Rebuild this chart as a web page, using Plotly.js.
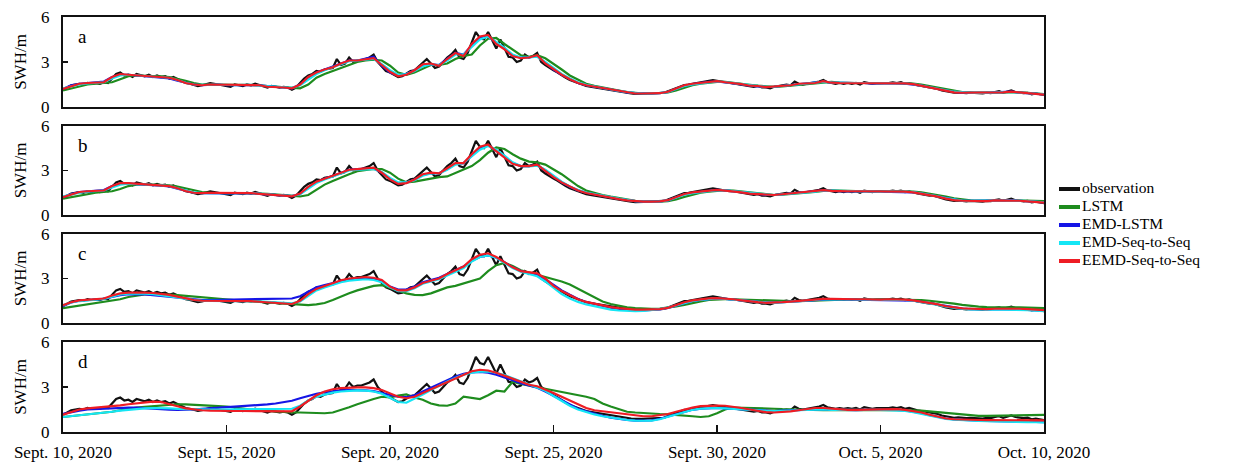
<!DOCTYPE html>
<html>
<head>
<meta charset="utf-8">
<script src="https://cdn.plot.ly/plotly-3.0.1.min.js"></script>
<style>
  html, body { margin: 0; padding: 0; background: #fff; }
  #chart { width: 1235px; height: 466px; }
</style>
</head>
<body>
<div id="chart"></div>
<script>
// Significant wave height, Sept. 10 – Oct. 10, 2020
// observation: 3-hourly values; model forecasts: 6-hourly values
const seriesNames = ['observation', 'LSTM', 'EMD-LSTM', 'EMD-Seq-to-Seq', 'EEMD-Seq-to-Seq'];
const panelLabels = ['a', 'b', 'c', 'd'];
const tickDates = ['2020-09-10', '2020-09-15', '2020-09-20', '2020-09-25', '2020-09-30', '2020-10-05', '2020-10-10'];
const tickLabels = ['Sept. 10, 2020', 'Sept. 15, 2020', 'Sept. 20, 2020', 'Sept. 25, 2020', 'Sept. 30, 2020', 'Oct. 5, 2020', 'Oct. 10, 2020'];
const yTicks = [0, 3, 6];

const observation = [
  1.15,1.3,1.45,1.5,1.55,1.5,1.6,1.55,
  1.6,1.55,1.65,1.6,1.9,2.2,2.3,2.1,
  2.15,2.0,2.2,2.1,2.05,2.15,2.0,2.1,
  2.0,2.05,1.9,2.0,1.85,1.7,1.6,1.55,
  1.5,1.4,1.45,1.5,1.6,1.55,1.5,1.45,
  1.4,1.35,1.5,1.45,1.4,1.5,1.45,1.55,
  1.45,1.35,1.3,1.4,1.35,1.3,1.35,1.3,
  1.15,1.3,1.6,1.9,2.1,2.2,2.4,2.35,
  2.5,2.55,2.6,3.2,2.8,2.9,3.3,3.0,
  3.1,3.1,3.2,3.3,3.5,3.0,2.7,2.4,
  2.3,2.15,2.0,2.05,2.2,2.4,2.45,2.7,
  2.9,3.2,2.9,2.6,2.7,3.0,3.3,3.5,
  3.8,3.3,3.2,3.6,4.3,5.0,4.6,4.5,
  5.0,4.4,3.9,4.5,3.9,3.35,3.3,3.0,
  3.1,3.5,3.3,3.4,3.6,3.0,2.8,2.6,
  2.45,2.3,2.1,1.95,1.8,1.7,1.55,1.45,
  1.4,1.35,1.3,1.25,1.25,1.2,1.15,1.1,
  1.05,1.0,0.95,0.9,0.87,0.9,0.88,0.9,
  0.9,0.9,0.92,0.95,1.05,1.15,1.3,1.4,
  1.47,1.5,1.55,1.6,1.6,1.65,1.7,1.8,
  1.75,1.7,1.65,1.6,1.6,1.55,1.5,1.45,
  1.4,1.35,1.4,1.3,1.3,1.25,1.35,1.4,
  1.45,1.5,1.45,1.7,1.55,1.5,1.55,1.6,
  1.6,1.7,1.8,1.65,1.6,1.55,1.6,1.55,
  1.6,1.55,1.6,1.5,1.65,1.6,1.55,1.6,
  1.6,1.55,1.6,1.65,1.6,1.65,1.55,1.6,
  1.5,1.45,1.4,1.35,1.3,1.3,1.2,1.1,
  1.05,1.0,0.95,0.98,0.95,0.92,0.95,0.93,
  0.95,0.9,0.95,0.93,1.0,1.05,0.95,1.0,
  1.1,1.0,0.95,0.92,0.95,0.85,0.9,0.85,
  0.8
];

// ---- panel a ----
const lstmA = [
  1.1,1.25,1.4,1.5, 1.55,1.6,1.65,1.85,
  2.05,2.1,2.1,2.05, 2.05,2.0,1.9,1.75,
  1.6,1.5,1.5,1.5, 1.45,1.45,1.45,1.48,
  1.45,1.4,1.35,1.32, 1.25,1.25,1.5,1.95,
  2.2,2.4,2.6,2.85, 3.0,3.1,3.15,3.1,
  2.75,2.3,2.15,2.3, 2.55,2.8,2.8,2.9,
  3.2,3.4,3.5,4.1, 4.55,4.6,4.2,3.8,
  3.45,3.35,3.45,3.25, 2.9,2.5,2.1,1.8,
  1.55,1.42,1.3,1.2, 1.1,1.0,0.93,0.9,
  0.9,0.92,0.97,1.1, 1.3,1.45,1.55,1.62,
  1.68,1.68,1.63,1.56, 1.48,1.42,1.36,1.34,
  1.38,1.43,1.48,1.55, 1.58,1.65,1.68,1.63,
  1.6,1.6,1.6,1.58, 1.58,1.6,1.6,1.59,
  1.56,1.5,1.4,1.3, 1.18,1.06,0.99,0.96,
  0.95,0.94,0.96,0.98, 1.0,0.98,0.94,0.9,
  0.86
];
const emdLstmA = [
  1.2,1.45,1.55,1.6, 1.6,1.7,2.0,2.15,
  2.15,2.1,2.1,2.0, 2.0,1.9,1.75,1.6,
  1.5,1.45,1.5,1.5, 1.45,1.45,1.5,1.5,
  1.45,1.4,1.35,1.3, 1.25,1.5,1.95,2.3,
  2.5,2.7,2.9,3.1, 3.1,3.2,3.35,2.75,
  2.3,2.1,2.2,2.45, 2.8,2.85,2.8,3.2,
  3.6,3.5,4.1,4.6, 4.7,4.3,3.9,3.4,
  3.3,3.3,3.4,2.95, 2.5,2.15,1.85,1.6,
  1.45,1.35,1.25,1.15, 1.05,0.98,0.92,0.9,
  0.9,0.93,1.0,1.22, 1.42,1.52,1.6,1.68,
  1.7,1.65,1.58,1.5, 1.42,1.38,1.33,1.35,
  1.4,1.45,1.52,1.55, 1.6,1.7,1.62,1.6,
  1.58,1.6,1.6,1.56, 1.58,1.6,1.58,1.56,
  1.5,1.42,1.32,1.22, 1.1,1.0,0.96,0.95,
  0.94,0.94,0.98,0.98, 1.02,0.96,0.92,0.88,
  0.84
];
const emdSeqA = [
  1.25,1.4,1.5,1.58, 1.6,1.65,1.9,2.1,
  2.15,2.1,2.05,2.05, 2.0,1.95,1.8,1.62,
  1.5,1.47,1.48,1.5, 1.45,1.45,1.47,1.48,
  1.42,1.38,1.35,1.3, 1.28,1.45,1.85,2.2,
  2.45,2.65,2.85,3.05, 3.1,3.15,3.2,2.85,
  2.45,2.15,2.2,2.4, 2.7,2.85,2.8,3.1,
  3.5,3.5,4.0,4.5, 4.7,4.35,3.95,3.5,
  3.3,3.3,3.35,3.0, 2.6,2.2,1.9,1.65,
  1.48,1.36,1.27,1.17, 1.07,0.99,0.93,0.9,
  0.9,0.92,1.0,1.2, 1.4,1.5,1.58,1.66,
  1.7,1.66,1.6,1.53, 1.45,1.4,1.34,1.35,
  1.4,1.44,1.5,1.55, 1.58,1.68,1.64,1.6,
  1.6,1.6,1.6,1.58, 1.58,1.6,1.6,1.58,
  1.53,1.44,1.34,1.24, 1.12,1.02,0.97,0.95,
  0.94,0.94,0.98,0.98, 1.0,0.97,0.93,0.89,
  0.85
];
const eemdSeqA = [
  1.2,1.4,1.55,1.6, 1.6,1.65,2.0,2.2,
  2.15,2.1,2.1,2.05, 2.0,1.95,1.8,1.6,
  1.5,1.45,1.5,1.5, 1.45,1.45,1.45,1.5,
  1.45,1.35,1.35,1.3, 1.25,1.5,2.0,2.3,
  2.5,2.65,2.9,3.1, 3.1,3.15,3.25,2.8,
  2.35,2.05,2.15,2.45, 2.85,2.9,2.75,3.2,
  3.6,3.4,4.2,4.7, 4.8,4.2,3.85,3.4,
  3.25,3.3,3.45,2.9, 2.5,2.15,1.85,1.6,
  1.45,1.35,1.25,1.15, 1.05,0.97,0.9,0.9,
  0.9,0.92,1.02,1.25, 1.45,1.55,1.6,1.7,
  1.72,1.65,1.6,1.52, 1.42,1.4,1.32,1.35,
  1.42,1.45,1.55,1.58, 1.6,1.72,1.62,1.6,
  1.6,1.6,1.6,1.57, 1.6,1.6,1.6,1.58,
  1.52,1.42,1.32,1.22, 1.08,0.98,0.95,0.95,
  0.94,0.95,0.99,0.98, 1.03,0.95,0.92,0.88,
  0.83
];

// ---- panel b ----
const lstmB = [
  1.1,1.2,1.35,1.45, 1.5,1.55,1.6,1.75,
  1.95,2.05,2.08,2.05, 2.05,2.0,1.92,1.8,
  1.65,1.55,1.5,1.5, 1.47,1.45,1.45,1.47,
  1.45,1.42,1.37,1.33, 1.28,1.25,1.35,1.7,
  2.05,2.3,2.55,2.75, 2.95,3.05,3.1,3.1,
  2.85,2.45,2.2,2.25, 2.35,2.5,2.55,2.6,
  2.85,3.1,3.3,3.7, 4.2,4.55,4.45,4.1,
  3.8,3.6,3.55,3.4, 3.1,2.75,2.35,1.95,
  1.65,1.48,1.35,1.24, 1.13,1.04,0.96,0.92,
  0.9,0.9,0.94,1.05, 1.22,1.38,1.5,1.58,
  1.65,1.67,1.64,1.58, 1.5,1.44,1.38,1.35,
  1.37,1.41,1.46,1.52, 1.56,1.62,1.66,1.64,
  1.61,1.6,1.6,1.59, 1.58,1.6,1.6,1.6,
  1.57,1.52,1.44,1.35, 1.24,1.12,1.04,0.99,
  0.97,0.96,0.97,0.98, 1.0,0.99,0.97,0.95,
  0.93
];
const emdLstmB = [
  1.2,1.42,1.55,1.6, 1.6,1.68,1.95,2.1,
  2.12,2.1,2.08,2.02, 1.98,1.92,1.78,1.62,
  1.5,1.47,1.48,1.5, 1.46,1.45,1.46,1.48,
  1.43,1.38,1.35,1.31, 1.27,1.42,1.85,2.2,
  2.45,2.62,2.85,3.05, 3.1,3.12,3.15,2.85,
  2.45,2.15,2.18,2.4, 2.7,2.82,2.82,3.1,
  3.45,3.5,4.0,4.5, 4.7,4.35,3.95,3.5,
  3.3,3.3,3.38,3.0, 2.58,2.2,1.9,1.66,
  1.5,1.38,1.28,1.18, 1.08,1.0,0.93,0.9,
  0.9,0.92,0.99,1.18, 1.4,1.5,1.57,1.65,
  1.69,1.66,1.6,1.53, 1.45,1.4,1.35,1.35,
  1.4,1.44,1.5,1.54, 1.58,1.66,1.63,1.6,
  1.59,1.6,1.59,1.57, 1.57,1.59,1.59,1.58,
  1.53,1.45,1.35,1.25, 1.12,1.01,0.96,0.95,
  0.94,0.94,0.97,0.97, 1.0,0.96,0.92,0.88,
  0.85
];
const emdSeqB = [
  1.25,1.4,1.5,1.57, 1.6,1.65,1.85,2.05,
  2.12,2.1,2.06,2.04, 2.0,1.95,1.82,1.65,
  1.52,1.48,1.48,1.5, 1.46,1.45,1.46,1.48,
  1.44,1.39,1.36,1.32, 1.28,1.4,1.8,2.15,
  2.4,2.6,2.8,3.0, 3.05,3.1,3.1,2.9,
  2.5,2.2,2.2,2.35, 2.65,2.8,2.8,3.05,
  3.4,3.5,3.95,4.4, 4.65,4.4,4.0,3.55,
  3.3,3.28,3.32,3.05, 2.65,2.25,1.93,1.68,
  1.52,1.4,1.3,1.2, 1.1,1.01,0.94,0.91,
  0.9,0.92,0.98,1.15, 1.37,1.48,1.56,1.63,
  1.68,1.66,1.61,1.54, 1.46,1.41,1.36,1.35,
  1.39,1.43,1.49,1.53, 1.57,1.65,1.64,1.61,
  1.6,1.6,1.6,1.58, 1.58,1.6,1.6,1.58,
  1.54,1.46,1.36,1.26, 1.14,1.03,0.97,0.95,
  0.94,0.94,0.97,0.97, 0.99,0.97,0.93,0.89,
  0.86
];
const eemdSeqB = [
  1.2,1.4,1.55,1.6, 1.6,1.65,1.95,2.15,
  2.15,2.1,2.08,2.05, 2.0,1.95,1.8,1.62,
  1.5,1.47,1.5,1.5, 1.45,1.45,1.46,1.48,
  1.43,1.37,1.35,1.3, 1.26,1.45,1.9,2.25,
  2.45,2.65,2.85,3.05, 3.1,3.15,3.2,2.85,
  2.4,2.1,2.15,2.4, 2.75,2.85,2.8,3.15,
  3.5,3.5,4.1,4.6, 4.75,4.3,3.9,3.45,
  3.3,3.3,3.4,2.95, 2.55,2.2,1.9,1.65,
  1.48,1.37,1.27,1.17, 1.07,0.99,0.92,0.9,
  0.9,0.92,1.0,1.2, 1.42,1.52,1.58,1.66,
  1.7,1.65,1.6,1.53, 1.44,1.4,1.34,1.35,
  1.4,1.45,1.52,1.55, 1.6,1.68,1.63,1.6,
  1.6,1.6,1.6,1.57, 1.58,1.6,1.6,1.58,
  1.53,1.44,1.34,1.24, 1.1,1.0,0.96,0.95,
  0.94,0.94,0.98,0.98, 1.01,0.96,0.92,0.88,
  0.84
];

// ---- panel c ----
const lstmC = [
  1.0,1.08,1.15,1.25, 1.35,1.42,1.5,1.6,
  1.75,1.85,1.92,1.95, 1.95,1.92,1.88,1.83,
  1.76,1.7,1.65,1.6, 1.56,1.52,1.48,1.45,
  1.42,1.38,1.34,1.3, 1.25,1.22,1.2,1.25,
  1.35,1.55,1.8,2.0, 2.2,2.35,2.5,2.55,
  2.4,2.2,2.0,1.9, 1.88,2.0,2.2,2.4,
  2.5,2.65,2.8,3.0, 3.5,3.9,4.05,3.85,
  3.55,3.4,3.3,3.15, 3.0,2.8,2.6,2.3,
  2.0,1.7,1.45,1.28, 1.15,1.05,1.0,0.97,
  0.95,0.97,1.02,1.12, 1.22,1.35,1.45,1.55,
  1.6,1.6,1.6,1.58, 1.55,1.52,1.5,1.48,
  1.47,1.47,1.48,1.5, 1.52,1.55,1.58,1.6,
  1.6,1.6,1.6,1.6, 1.6,1.6,1.6,1.6,
  1.58,1.55,1.5,1.45, 1.38,1.3,1.22,1.15,
  1.1,1.07,1.05,1.05, 1.05,1.05,1.05,1.03,
  1.0
];
const emdLstmC = [
  1.15,1.38,1.5,1.55, 1.58,1.62,1.75,1.88,
  1.95,1.95,1.93,1.88, 1.83,1.77,1.7,1.63,
  1.58,1.55,1.55,1.56, 1.56,1.57,1.58,1.6,
  1.6,1.6,1.6,1.6, 1.65,1.8,2.1,2.4,
  2.55,2.7,2.85,2.95, 3.0,3.0,2.98,2.8,
  2.45,2.25,2.25,2.45, 2.75,2.9,3.05,3.3,
  3.55,3.8,4.2,4.45, 4.55,4.4,4.1,3.75,
  3.5,3.35,3.25,2.95, 2.55,2.2,1.9,1.62,
  1.42,1.28,1.15,1.03, 0.95,0.88,0.84,0.84,
  0.86,0.92,1.02,1.18, 1.36,1.48,1.56,1.62,
  1.65,1.63,1.58,1.52, 1.46,1.41,1.37,1.37,
  1.4,1.44,1.49,1.53, 1.56,1.6,1.6,1.59,
  1.58,1.58,1.58,1.56, 1.55,1.56,1.56,1.54,
  1.5,1.43,1.34,1.24, 1.13,1.03,0.97,0.94,
  0.92,0.91,0.92,0.92, 0.92,0.9,0.88,0.85,
  0.82
];
const emdSeqC = [
  1.2,1.38,1.48,1.54, 1.57,1.62,1.78,1.92,
  1.98,2.0,1.98,1.94, 1.88,1.82,1.72,1.62,
  1.54,1.5,1.49,1.49, 1.47,1.46,1.46,1.47,
  1.45,1.42,1.38,1.34, 1.32,1.45,1.85,2.2,
  2.4,2.6,2.75,2.85, 2.9,2.95,2.9,2.75,
  2.4,2.15,2.15,2.35, 2.65,2.8,2.95,3.2,
  3.45,3.7,4.15,4.45, 4.55,4.4,4.05,3.7,
  3.45,3.3,3.15,2.8, 2.35,1.95,1.65,1.42,
  1.25,1.12,1.0,0.9, 0.84,0.8,0.8,0.82,
  0.86,0.93,1.04,1.2, 1.36,1.48,1.56,1.62,
  1.65,1.63,1.58,1.52, 1.46,1.41,1.37,1.36,
  1.39,1.43,1.48,1.52, 1.55,1.6,1.6,1.59,
  1.58,1.58,1.58,1.56, 1.56,1.57,1.57,1.55,
  1.5,1.42,1.32,1.22, 1.1,1.0,0.95,0.92,
  0.9,0.89,0.9,0.9, 0.9,0.88,0.86,0.83,
  0.8
];
const eemdSeqC = [
  1.2,1.4,1.52,1.58, 1.6,1.65,1.85,2.0,
  2.05,2.06,2.05,2.02, 1.98,1.9,1.78,1.64,
  1.55,1.5,1.5,1.49, 1.46,1.45,1.46,1.47,
  1.43,1.38,1.35,1.31, 1.28,1.5,1.95,2.3,
  2.5,2.7,2.88,3.0, 3.05,3.1,3.05,2.9,
  2.45,2.2,2.2,2.4, 2.7,2.85,3.0,3.3,
  3.55,3.8,4.3,4.6, 4.7,4.45,4.1,3.75,
  3.5,3.42,3.35,3.0, 2.5,2.15,1.85,1.6,
  1.42,1.3,1.18,1.07, 1.0,0.93,0.9,0.9,
  0.9,0.93,1.02,1.2, 1.4,1.52,1.6,1.66,
  1.68,1.65,1.6,1.53, 1.45,1.4,1.36,1.36,
  1.4,1.44,1.5,1.54, 1.57,1.63,1.62,1.6,
  1.6,1.6,1.6,1.57, 1.57,1.6,1.6,1.58,
  1.53,1.45,1.35,1.25, 1.13,1.03,0.98,0.96,
  0.94,0.94,0.96,0.97, 0.98,0.96,0.93,0.89,
  0.86
];

// ---- panel d ----
const lstmD = [
  1.0,1.05,1.1,1.15, 1.2,1.27,1.35,1.45,
  1.55,1.62,1.68,1.73, 1.78,1.82,1.85,1.84,
  1.8,1.77,1.74,1.72, 1.7,1.65,1.58,1.5,
  1.44,1.4,1.36,1.33, 1.3,1.3,1.28,1.27,
  1.25,1.3,1.45,1.65, 1.85,2.05,2.2,2.35,
  2.3,2.42,2.5,2.3, 2.15,1.9,1.78,1.75,
  1.9,2.35,2.25,2.2, 2.45,2.75,2.7,3.35,
  3.2,3.1,3.0,2.9, 2.8,2.7,2.6,2.5,
  2.35,2.2,1.9,1.7, 1.5,1.35,1.3,1.25,
  1.22,1.2,1.18,1.15, 1.1,1.05,1.0,1.05,
  1.25,1.5,1.63,1.62, 1.6,1.6,1.58,1.55,
  1.52,1.5,1.48,1.46, 1.45,1.45,1.45,1.46,
  1.46,1.46,1.46,1.47, 1.47,1.47,1.46,1.46,
  1.45,1.42,1.38,1.32, 1.27,1.22,1.16,1.1,
  1.07,1.07,1.08,1.1, 1.12,1.13,1.13,1.14,
  1.14
];
const emdLstmD = [
  1.2,1.32,1.42,1.5, 1.53,1.57,1.6,1.62,
  1.63,1.62,1.6,1.56, 1.52,1.49,1.47,1.47,
  1.5,1.55,1.6,1.63, 1.66,1.69,1.72,1.76,
  1.8,1.84,1.9,1.97, 2.08,2.25,2.42,2.55,
  2.65,2.72,2.78,2.8, 2.8,2.78,2.72,2.6,
  2.48,2.35,2.32,2.45, 2.7,2.95,3.2,3.45,
  3.7,3.88,3.98,4.0, 3.95,3.82,3.65,3.45,
  3.25,3.1,2.95,2.7, 2.4,2.1,1.8,1.55,
  1.38,1.22,1.08,0.96, 0.87,0.8,0.76,0.75,
  0.78,0.88,1.02,1.2, 1.35,1.48,1.55,1.6,
  1.6,1.58,1.55,1.52, 1.48,1.45,1.42,1.4,
  1.42,1.45,1.48,1.5, 1.5,1.5,1.48,1.47,
  1.46,1.46,1.47,1.48, 1.48,1.48,1.47,1.44,
  1.36,1.25,1.12,1.0, 0.9,0.84,0.8,0.78,
  0.76,0.74,0.72,0.71, 0.7,0.69,0.68,0.67,
  0.66
];
const emdSeqD = [
  1.0,1.05,1.1,1.15, 1.2,1.27,1.35,1.42,
  1.48,1.53,1.57,1.6, 1.6,1.57,1.54,1.52,
  1.5,1.5,1.5,1.5, 1.5,1.5,1.5,1.5,
  1.5,1.5,1.5,1.52, 1.55,1.75,2.1,2.35,
  2.5,2.62,2.7,2.75, 2.77,2.76,2.7,2.55,
  2.3,2.0,1.95,2.2, 2.5,2.8,3.1,3.35,
  3.6,3.82,3.95,4.02, 4.03,3.95,3.8,3.6,
  3.4,3.2,3.0,2.75, 2.4,2.05,1.75,1.5,
  1.32,1.17,1.05,0.95, 0.86,0.8,0.76,0.73,
  0.75,0.85,1.0,1.18, 1.35,1.48,1.56,1.6,
  1.6,1.58,1.54,1.5, 1.46,1.43,1.41,1.4,
  1.42,1.45,1.48,1.5, 1.5,1.5,1.48,1.47,
  1.46,1.46,1.47,1.48, 1.48,1.47,1.45,1.4,
  1.32,1.2,1.08,0.97, 0.88,0.82,0.78,0.76,
  0.74,0.72,0.7,0.69, 0.68,0.67,0.66,0.65,
  0.64
];
const eemdSeqD = [
  1.15,1.35,1.5,1.58, 1.62,1.65,1.7,1.78,
  1.85,1.92,1.98,2.02, 2.0,1.88,1.72,1.58,
  1.5,1.45,1.42,1.4, 1.4,1.4,1.4,1.4,
  1.38,1.37,1.36,1.35, 1.38,1.7,2.1,2.45,
  2.7,2.85,2.92,2.96, 2.98,2.98,2.92,2.8,
  2.6,2.35,2.25,2.35, 2.6,2.85,3.1,3.35,
  3.6,3.85,4.05,4.15, 4.1,3.95,3.75,3.5,
  3.3,3.15,3.05,2.85, 2.6,2.35,2.1,1.85,
  1.6,1.45,1.38,1.32, 1.28,1.2,1.1,1.05,
  1.05,1.1,1.2,1.35, 1.5,1.62,1.72,1.75,
  1.76,1.75,1.7,1.6, 1.5,1.4,1.32,1.3,
  1.32,1.38,1.45,1.55, 1.6,1.6,1.55,1.5,
  1.47,1.47,1.48,1.5, 1.52,1.53,1.52,1.48,
  1.4,1.3,1.15,1.0, 0.9,0.85,0.82,0.8,
  0.8,0.79,0.79,0.79, 0.79,0.78,0.78,0.78,
  0.78
];

const panelForecasts = [
  [lstmA, emdLstmA, emdSeqA, eemdSeqA],
  [lstmB, emdLstmB, emdSeqB, eemdSeqB],
  [lstmC, emdLstmC, emdSeqC, eemdSeqC],
  [lstmD, emdLstmD, emdSeqD, eemdSeqD]
];

const colors = ['#111111', '#1e8c1e', '#1515e6', '#14e6f5', '#ee1c24'];
const FONT = 'Liberation Serif, Times New Roman, serif';
const FS = 17;
const LEGEND_FS = 15.5;

// time stamps (ms) with a fixed step in hours, starting at Sept. 10, 2020
const t0 = Date.UTC(2020, 8, 10);
function timeAxis(n, stepHours) {
  const out = [];
  for (let k = 0; k < n; k++) out.push(t0 + k * stepHours * 3600000);
  return out;
}
const tObs = timeAxis(observation.length, 3);

const W = 1235, H = 466;
const M = { l: 63, r: 191, t: 17, b: 34 };
const plotW = W - M.l - M.r, plotH = H - M.t - M.b;
// pixel helpers for the legend block placed right of the panels
const px2x = px => (px - M.l) / plotW;
const px2y = py => (H - M.b - py) / plotH;

const traces = [];
const layout = {
  width: W, height: H,
  margin: M,
  paper_bgcolor: '#fff', plot_bgcolor: '#fff',
  font: { family: FONT, size: FS, color: '#000' },
  showlegend: false,
  annotations: [],
  shapes: []
};

// panel vertical extents in paper fractions (top to bottom: a, b, c, d)
const domains = [[0.7831, 1.0], [0.5229, 0.7373], [0.2627, 0.4771], [0.0, 0.2169]];

panelLabels.forEach((lab, p) => {
  const xs = p === 0 ? 'x' : 'x' + (p + 1);
  const ys = p === 0 ? 'y' : 'y' + (p + 1);
  const xKey = p === 0 ? 'xaxis' : 'xaxis' + (p + 1);
  const yKey = p === 0 ? 'yaxis' : 'yaxis' + (p + 1);
  const isBottom = p === 3;

  traces.push({
    x: tObs, y: observation, xaxis: xs, yaxis: ys, type: 'scatter', mode: 'lines',
    name: seriesNames[0], line: { color: colors[0], width: 2.2 }, hoverinfo: 'skip'
  });
  panelForecasts[p].forEach((vals, i) => {
    traces.push({
      x: timeAxis(vals.length, 6), y: vals, xaxis: xs, yaxis: ys,
      type: 'scatter', mode: 'lines', name: seriesNames[i + 1],
      line: { color: colors[i + 1], width: 2.2 }, hoverinfo: 'skip'
    });
  });

  layout[xKey] = {
    type: 'date', range: ['2020-09-10', '2020-10-10'], anchor: ys,
    domain: [0, 1],
    showline: true, mirror: true, linecolor: '#111', linewidth: 2,
    showgrid: false, zeroline: false,
    tickmode: 'array', tickvals: tickDates, ticktext: tickLabels,
    ticks: isBottom ? 'inside' : '', ticklen: 7, tickcolor: '#111', tickwidth: 1.2,
    showticklabels: isBottom, ticklabelstandoff: 4,
    tickfont: { family: FONT, size: FS, color: '#000' }
  };
  if (p > 0) layout[xKey].matches = 'x';
  layout[yKey] = {
    domain: domains[p], anchor: xs, range: [0, 6],
    tickmode: 'array', tickvals: yTicks, ticktext: yTicks.map(String),
    ticks: 'inside', ticklen: 5, tickcolor: '#111', tickwidth: 1.2,
    showline: true, mirror: true, linecolor: '#111', linewidth: 2,
    showgrid: false, zeroline: false, ticklabelstandoff: 8,
    tickfont: { family: FONT, size: FS, color: '#000' },
    title: { text: 'SWH/m', font: { family: FONT, size: FS, color: '#000' }, standoff: 10 }
  };
  layout.annotations.push({
    xref: xs + ' domain', yref: ys + ' domain', x: 0.013, y: 0.92,
    xanchor: 'left', yanchor: 'top', showarrow: false,
    text: lab, font: { family: FONT, size: 19, color: '#000' }
  });
});

// legend block: short thick line + series name per row
const legendTop = 189, legendStep = 18;
seriesNames.forEach((name, i) => {
  const py = legendTop + i * legendStep;
  layout.shapes.push({
    type: 'line', xref: 'paper', yref: 'paper',
    x0: px2x(1059), x1: px2x(1080), y0: px2y(py), y1: px2y(py),
    line: { color: colors[i], width: 4 }
  });
  layout.annotations.push({
    xref: 'paper', yref: 'paper', x: px2x(1081), y: px2y(py - 1.5),
    xanchor: 'left', yanchor: 'middle', showarrow: false, borderpad: 0,
    text: name, font: { family: FONT, size: LEGEND_FS, color: '#000' }
  });
});

Plotly.newPlot('chart', traces, layout, { staticPlot: true, displayModeBar: false });
</script>
</body>
</html>
